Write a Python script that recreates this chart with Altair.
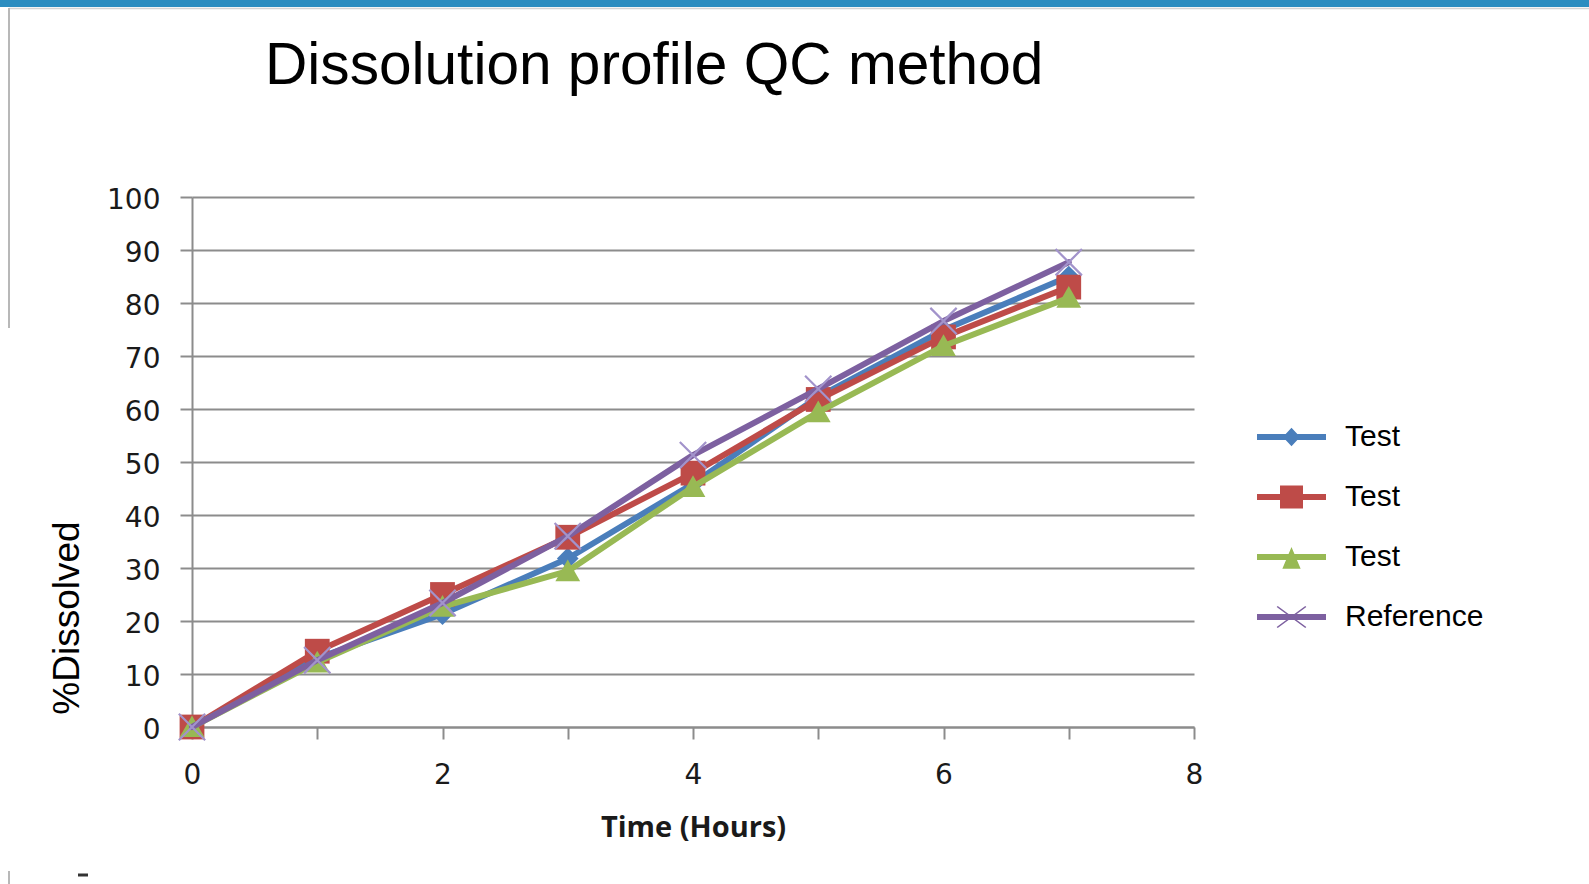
import altair as alt
import pandas as pd

# ---------------- data ----------------
TITLE = "Dissolution profile QC method"
X_TITLE = "Time (Hours)"
Y_TITLE = "%Dissolved"

hours = [0, 1, 2, 3, 4, 5, 6, 7]
series_names = ["Test 1", "Test 2", "Test 3", "Reference"]
test1 = [0, 13.0, 21.3, 31.8, 45.9, 62.3, 74.9, 85.0]
test2 = [0, 14.3, 25.0, 35.8, 47.9, 61.8, 73.6, 83.0]
test3 = [0, 12.2, 22.7, 29.4, 45.3, 59.4, 71.9, 81.0]
reference = [0, 12.6, 23.4, 36.0, 51.3, 63.8, 76.6, 87.7]
x_ticks = [0, 1, 2, 3, 4, 5, 6, 7, 8]
y_ticks = [0, 10, 20, 30, 40, 50, 60, 70, 80, 90, 100]

# ---------------- styles ----------------
line_colors = ["#4A7EBB", "#BE4B48", "#98B954", "#7D60A0"]
marker_colors = ["#4A7EBB", "#BE4B48", "#98B954", "#A293CB"]
marker_paths = [
    "M0,-0.7 L0.7,0 L0,0.7 L-0.7,0 Z",
    "M-0.8,-0.8 L0.8,-0.8 L0.8,0.8 L-0.8,0.8 Z",
    "M0,-0.75 L0.8,0.65 L-0.8,0.65 Z",
    "M-0.9,-0.8 L-0.8,-0.9 L0.9,0.8 L0.8,0.9 Z M0.8,-0.9 L0.9,-0.8 L-0.8,0.9 L-0.9,0.8 Z",
]
LINE = "M-1,-0.087 L1,-0.087 L1,0.087 L-1,0.087 Z "
legend_paths = [
    LINE + "M-0.25,0 L0,-0.27 L0.25,0 L0,0.27 Z",
    LINE + "M-0.333,-0.333 L0.333,-0.333 L0.333,0.333 L-0.333,0.333 Z",
    LINE + "M0,-0.29 L0.265,0.34 L-0.265,0.34 Z",
    LINE + "M-0.43,-0.29 L-0.40,-0.32 L0.43,0.29 L0.40,0.32 Z "
    "M0.40,-0.32 L0.43,-0.29 L-0.40,0.32 L-0.43,0.29 Z",
]

W, H = 1002, 530
PL, PT = 192, 197
GRID = "#8c8c8c"
LABEL = "#1a1a1a"

rows = []
for name, vals in zip(series_names, [test1, test2, test3, reference]):
    for h, v in zip(hours, vals):
        rows.append({"hour": h, "value": v, "series": name})
df = pd.DataFrame(rows)

x_axis = alt.Axis(
    values=x_ticks,
    labelExpr="datum.value % 2 === 0 ? datum.label : ''",
    labelFlush=False, labelOverlap=False,
    grid=False,
    domainColor=GRID, domainWidth=2,
    tickColor=GRID, tickWidth=2, tickSize=12,
    labelFont="DejaVu Sans", labelFontSize=28, labelColor=LABEL,
    labelBaseline="middle", labelPadding=36,
    title=X_TITLE, titleFont="Open Sans", titleFontSize=29, titleFontWeight="bold",
    titleColor=LABEL, titleBaseline="alphabetic", titleAlign="center",
    titleX=W / 2, titleY=109,
)
y_axis = alt.Axis(
    values=y_ticks,
    grid=True, gridColor=GRID, gridWidth=2,
    domainColor=GRID, domainWidth=2,
    tickColor=GRID, tickWidth=2, tickSize=12,
    labelFont="DejaVu Sans", labelFontSize=28, labelColor=LABEL,
    labelPadding=20, labelOffset=3, labelFlush=False,
    title=Y_TITLE, titleFont="Liberation Sans", titleFontSize=37,
    titleFontWeight="normal", titleColor="black", titleAngle=270,
    titleX=78 - PL, titleY=617.5 - PT, titleAlign="center", titleBaseline="alphabetic",
)
X = alt.X("hour:Q", scale=alt.Scale(domain=[0, 8], nice=False), axis=x_axis)
Y = alt.Y("value:Q", scale=alt.Scale(domain=[0, 100], nice=False), axis=y_axis)

one = alt.Data(values=[{"k": 0}])
layers = []

# slide decorations
layers.append(alt.Chart(one).mark_rect(color="#2C8DC0").encode(
    x=alt.value(-PL), x2=alt.value(1589 - PL), y=alt.value(-PT), y2=alt.value(7 - PT)))
layers.append(alt.Chart(one).mark_rule(color="#d4d4d4", strokeWidth=1.5).encode(
    x=alt.value(9 - PL), x2=alt.value(1589 - PL), y=alt.value(8.5 - PT)))
layers.append(alt.Chart(one).mark_rule(color="#b8b8b8", strokeWidth=2).encode(
    x=alt.value(9 - PL), y=alt.value(8 - PT), y2=alt.value(328 - PT)))
layers.append(alt.Chart(one).mark_rule(color="#b8b8b8", strokeWidth=2).encode(
    x=alt.value(9 - PL), y=alt.value(871 - PT), y2=alt.value(884 - PT)))
layers.append(alt.Chart(one).mark_rule(color="#333333", strokeWidth=3).encode(
    x=alt.value(78 - PL), x2=alt.value(88 - PL), y=alt.value(875 - PT)))

# title
layers.append(alt.Chart(one).mark_text(
    text=TITLE, font="Liberation Sans", fontSize=58.6, color="black",
    align="left", baseline="alphabetic").encode(
    x=alt.value(265 - PL), y=alt.value(84 - PT)))

# series: line then markers, series by series
for name, lc, mc, path in zip(series_names, line_colors, marker_colors, marker_paths):
    base = alt.Chart(df).transform_filter(alt.datum.series == name)
    layers.append(base.mark_line(color=lc, strokeWidth=6, strokeCap="round",
                                 strokeJoin="round").encode(x=X, y=Y))
    layers.append(base.mark_point(shape=path, size=960, filled=True, fill=mc,
                                  strokeWidth=0, opacity=1).encode(x=X, y=Y))

# legend (from scales, no drawn points)
leg = alt.Legend(
    title=None, orient="none", legendX=1257 - PL, legendY=407 - PT,
    direction="vertical", padding=0,
    symbolSize=4761, symbolStrokeWidth=0, symbolOpacity=1,
    labelFont="Liberation Sans", labelFontSize=30, labelColor="black",
    labelOffset=19, clipHeight=60, rowPadding=0,
    labelExpr="indexof(datum.label, 'Test') === 0 ? 'Test' : datum.label",
)
layers.append(alt.Chart(df).transform_filter("false").mark_point(
    filled=True, opacity=1).encode(
    x=X, y=Y,
    color=alt.Color("series:N", scale=alt.Scale(domain=series_names, range=line_colors), legend=leg),
    shape=alt.Shape("series:N", scale=alt.Scale(domain=series_names, range=legend_paths), legend=leg),
))

chart = alt.layer(*layers).properties(
    width=W, height=H, autosize="none",
    padding={"left": PL, "top": PT, "right": 1589 - PL - W, "bottom": 884 - PT - H},
    background="white",
).configure_view(stroke=None)

chart.save("out.html", embed_options={"renderer": "svg", "actions": False})
